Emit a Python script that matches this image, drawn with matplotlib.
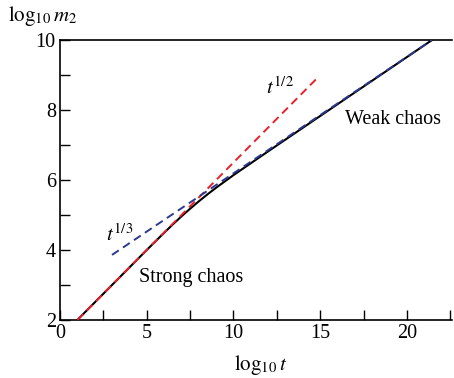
import numpy as np
import matplotlib.pyplot as plt
from matplotlib.ticker import MultipleLocator

plt.rcParams['font.family'] = 'Liberation Serif'
plt.rcParams['mathtext.fontset'] = 'stix'

# black curve: numerical m2(t)
logt = [1.0, 3.0, 5.0, 6.0, 6.5, 7.0, 7.5, 8.0, 8.5, 9.0, 9.5, 10.0, 10.5, 11.0, 12.0, 21.44]
logm2 = [2.0, 3.0, 4.0, 4.49, 4.73, 4.96, 5.18, 5.39, 5.59, 5.78, 5.96, 6.14, 6.31, 6.48, 6.82, 10.0]

# t^{1/2} fit (strong chaos)
red_t = [1.0, 14.8]
red_m = [2.0, 8.9]

# t^{1/3} fit (weak chaos)
blue_t = [3.0, 21.44]
blue_m = [3.86, 10.0]

fig = plt.figure(figsize=(4.54, 3.78), dpi=100)
ax = fig.add_axes([0.132, 0.1534, 0.864, 0.7408])

ax.plot(logt, logm2, color='black', lw=1.5, zorder=2)
ax.plot(red_t, red_m, color='#e8202a', lw=1.4, dashes=(4.2, 2.6), zorder=3)
ax.plot(blue_t, blue_m, color='#2b3990', lw=1.4, dashes=(4.2, 2.6), zorder=3)

ax.text(12.7, 8.63, r'$t^{1/2}$', fontsize=15, ha='center', va='center')
ax.text(3.46, 4.43, r'$t^{1/3}$', fontsize=15, ha='center', va='center')
ax.text(19.2, 7.72, 'Weak chaos', fontsize=14.5, ha='center', va='center')
ax.text(7.55, 3.22, 'Strong chaos', fontsize=14.5, ha='center', va='center')

ax.set_xlim(0, 22.6)
ax.set_ylim(2, 10)
ax.xaxis.set_major_locator(MultipleLocator(5))
ax.xaxis.set_minor_locator(MultipleLocator(2.5))
ax.yaxis.set_major_locator(MultipleLocator(2))
ax.yaxis.set_minor_locator(MultipleLocator(1))
ax.tick_params(which='both', direction='in', length=7, width=1, labelsize=14.5, pad=3)
ax.spines['right'].set_visible(False)
for s in ['left', 'bottom', 'top']:
    ax.spines[s].set_linewidth(1.2)

fig.text(261/454, 1-365/378, r'$\log_{10}t$', fontsize=15, ha='center', va='center')
fig.text(43/454, 1-16/378, r'$\log_{10}m_2$', fontsize=15, ha='center', va='center')

fig.savefig('out.png', dpi=100)
